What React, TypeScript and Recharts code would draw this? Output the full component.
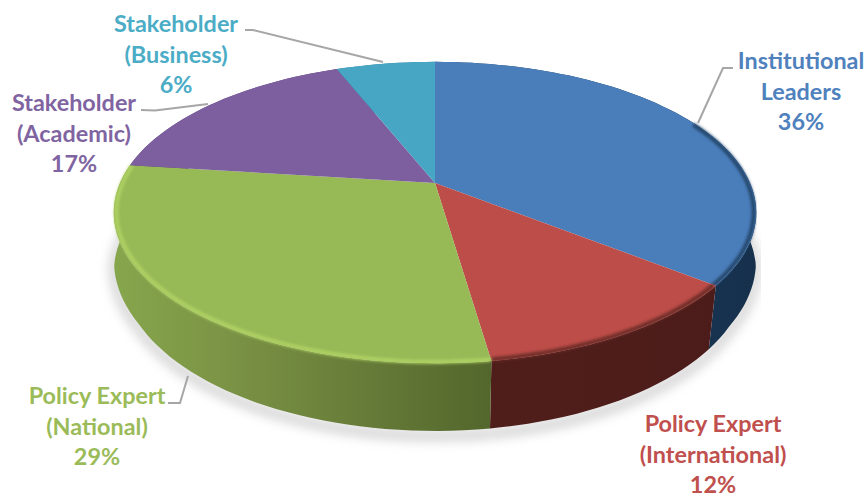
import { PieChart, Pie } from "recharts"

const WIDTH = 866
const HEIGHT = 498

const NAMES = [
  ["Institutional", "Leaders"],
  ["Policy Expert", "(International)"],
  ["Policy Expert", "(National)"],
  ["Stakeholder", "(Academic)"],
  ["Stakeholder", "(Business)"],
]
const SHARES = [36, 12, 29, 17, 6]

const TOP_COLORS = ["#4a7ebb", "#bd4d49", "#97b956", "#7d5f9f", "#46a6c3"]
const TEXT_COLORS = ["#4f81bd", "#c0504d", "#9bbb59", "#8064a2", "#4bacc6"]
const RIM_COLORS = ["#234468", "#6a2b28", "#afd164", "none", "none"]
const WALL_STOPS = [
  ["#1d3c5e", "#1d3c5e", "#16304c"],
  ["#4f1e1b", "#4f1e1b", "#4c1c1a"],
  ["#86a64c", "#7b9345", "#53662c"],
  ["#5f4679", "#5f4679", "#5f4679"],
  ["#35809a", "#35809a", "#35809a"],
]

// label block: centre x, first baseline
const LABEL_POS = [
  { x: 801, y: 69 },
  { x: 713, y: 432 },
  { x: 97, y: 404 },
  { x: 74, y: 111 },
  { x: 176, y: 32 },
]
const LEADERS = [
  "733,68 723,68 698,123",
  "",
  "168,403 180,403 188,376",
  "141,110 155,110.5 208,104",
  "245,30 253,30 383,62",
]

const CX = 435
const CY = 183
const RADIUS = 315
const SQUASH = 0.46 // vertical flattening of the disc
const TILT = 0.196 // perspective strength, front edge gets bigger
const DEPTH = 58
const TAPER = 0.025 // lower edge pulls in a bit towards the front

const rad = (deg: number) => (deg * Math.PI) / 180

// circle point -> screen point on the tilted disc
function project(angle: number, r: number, drop = 0) {
  const front = Math.max(0, -Math.sin(rad(angle)))
  // the camera sits slightly off axis, front half swings round a little
  const a = rad(angle + 1.1 * Math.min(1, front / 0.5))
  const u = Math.cos(a)
  const v = -Math.sin(a)
  const d = 1 - TILT * v
  const taper = drop > 0 ? 1 - TAPER * Math.min(1, Math.max(0, (v - 0.15) / 0.35)) : 1
  return {
    x: CX + (r * taper * u) / d,
    y: CY + (r * taper * SQUASH * v) / d + drop / d,
    v,
  }
}

function arc(start: number, end: number, r: number, drop = 0) {
  const steps = Math.max(2, Math.ceil(Math.abs(end - start) / 2))
  const pts = []
  for (let i = 0; i <= steps; i++) {
    pts.push(project(start + ((end - start) * i) / steps, r, drop))
  }
  return pts
}

const toPath = (pts: { x: number; y: number }[]) =>
  pts.map((p, i) => `${i ? "L" : "M"}${p.x.toFixed(1)} ${p.y.toFixed(1)}`).join(" ")

function TopFace(props: any) {
  const { startAngle, endAngle, outerRadius, index } = props
  const face = `M${CX} ${CY} ${toPath(arc(startAngle, endAngle, outerRadius)).replace("M", "L")} Z`
  const rim = arc(startAngle, endAngle, outerRadius * 0.992).filter((p) => p.v > -0.45)
  return (
    <g>
      <path d={face} fill={TOP_COLORS[index]} />
      {RIM_COLORS[index] !== "none" && rim.length > 1 && (
        <path d={toPath(rim)} fill="none" stroke={RIM_COLORS[index]} strokeWidth={4} filter="url(#soft)" />
      )}
    </g>
  )
}

function Wall(props: any) {
  const { startAngle, endAngle, outerRadius, index } = props
  const top = arc(startAngle, endAngle, outerRadius)
  const bottom = arc(endAngle, startAngle, outerRadius, DEPTH)
  return <path d={`${toPath(top)} ${toPath(bottom).replace("M", "L")} Z`} fill={`url(#wall-${index})`} />
}

function Shadow(props: any) {
  const { startAngle, endAngle, outerRadius } = props
  const pts = arc(startAngle, endAngle, outerRadius, DEPTH + 4).filter((p) => p.v > -0.2)
  if (pts.length < 2) return <g />
  return <path d={toPath(pts)} fill="none" stroke="#9a9a9a" strokeWidth={9} opacity={0.5} filter="url(#shadow)" />
}

function SliceLabel(props: any) {
  const { index, value } = props
  const pos = LABEL_POS[index]
  const lines = [...NAMES[index], `${value}%`]
  return (
    <g>
      {LEADERS[index] && <polyline points={LEADERS[index]} fill="none" stroke="#a6a6a6" strokeWidth={2} />}
      <text
        textAnchor="middle"
        fill={TEXT_COLORS[index]}
        fontFamily="Lato, sans-serif"
        fontWeight={700}
        fontSize={23.4}
      >
        {lines.map((line, i) => (
          <tspan key={i} x={pos.x} y={pos.y + i * 30.5}>
            {line}
          </tspan>
        ))}
      </text>
    </g>
  )
}

export default function App() {
  const data = SHARES.map((share, i) => ({ name: NAMES[i].join(" "), value: share }))
  const pieProps = {
    data,
    dataKey: "value",
    nameKey: "name",
    cx: CX,
    cy: CY,
    outerRadius: RADIUS,
    startAngle: 90,
    endAngle: -270,
    stroke: "none",
    isAnimationActive: false,
  }
  return (
    <div style={{ position: "absolute", left: 0, top: 0, width: WIDTH, height: HEIGHT, background: "#fff" }}>
      <PieChart width={WIDTH} height={HEIGHT} margin={{ top: 0, right: 0, bottom: 0, left: 0 }}>
        <defs>
          <filter id="soft" x="-5%" y="-5%" width="110%" height="110%">
            <feGaussianBlur stdDeviation="1.8" />
          </filter>
          <filter id="shadow" x="-10%" y="-20%" width="120%" height="140%">
            <feGaussianBlur stdDeviation="6" />
          </filter>
          {WALL_STOPS.map((stops, i) => (
            <linearGradient key={i} id={`wall-${i}`} x1="0" y1="0" x2="1" y2="0">
              <stop offset="0%" stopColor={stops[0]} />
              <stop offset="30%" stopColor={stops[1]} />
              <stop offset="100%" stopColor={stops[2]} />
            </linearGradient>
          ))}
        </defs>
        <Pie {...pieProps} shape={Shadow} />
        <Pie {...pieProps} shape={Wall} />
        <Pie {...pieProps} shape={TopFace} label={SliceLabel} labelLine={false} />
      </PieChart>
    </div>
  )
}
